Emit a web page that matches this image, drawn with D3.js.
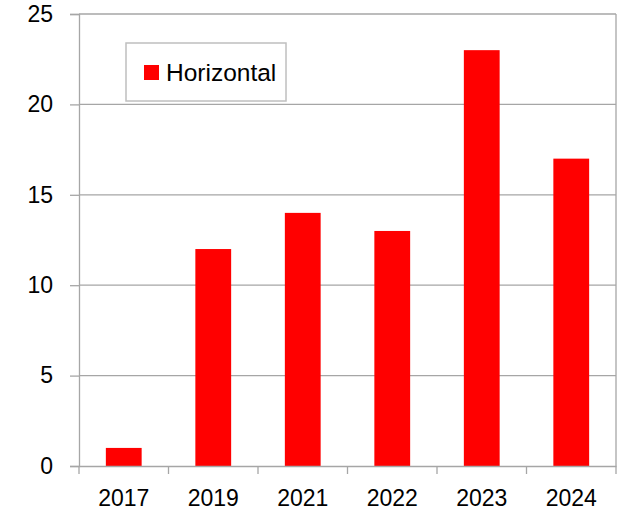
<!DOCTYPE html>
<html><head><meta charset="utf-8">
<script src="https://cdn.jsdelivr.net/npm/d3@7"></script>
<style>html,body{margin:0;padding:0;background:#fff;}</style>
</head><body>
<script>
const categories = ["2017","2019","2021","2022","2023","2024"];
const values = [1,12,14,13,23,17];
const yTicks = [0,5,10,15,20,25];
const seriesName = "Horizontal";

const W = 621, H = 515;
const m = {left:79, right:5, top:14, bottom:49};
const svg = d3.select("body").append("svg").attr("width",W).attr("height",H);
const x = d3.scaleBand().domain(categories).range([m.left, W-m.right]).padding(0);
const y = d3.scaleLinear().domain([0,25]).range([H-m.bottom, m.top]);
const font = "'Liberation Sans', Arial, sans-serif";
const grey = "#a6a6a6";

// gridlines
svg.append("g").selectAll("line").data(yTicks.filter(d=>d>0)).join("line")
  .attr("x1",m.left).attr("x2",W-m.right)
  .attr("y1",d=>y(d)).attr("y2",d=>y(d))
  .attr("stroke",grey).attr("stroke-width",1.3);
// right border
svg.append("line").attr("x1",W-m.right).attr("x2",W-m.right).attr("y1",y(25)).attr("y2",y(0))
  .attr("stroke",grey).attr("stroke-width",1.3);

// bars
const bw = x.bandwidth()*0.4;
svg.append("g").selectAll("rect").data(values).join("rect")
  .attr("x",(d,i)=>x(categories[i])+x.bandwidth()/2-bw/2)
  .attr("width",bw)
  .attr("y",d=>y(d)).attr("height",d=>y(0)-y(d))
  .attr("fill","#ff0000");

// y axis
const ya = svg.append("g").attr("transform",`translate(${m.left},0)`)
  .call(d3.axisLeft(y).tickValues(yTicks).tickSize(9).tickPadding(17));
ya.select(".domain").attr("stroke",grey).attr("stroke-width",1.3);
ya.selectAll(".tick line").attr("stroke",grey).attr("stroke-width",1.3);
ya.selectAll(".tick text").attr("font-family",font).attr("font-size",23).attr("fill","#000");

// x axis
const xa = svg.append("g").attr("transform",`translate(0,${y(0)})`)
  .call(d3.axisBottom(x).tickSize(0).tickPadding(24));
xa.select(".domain").attr("stroke",grey).attr("stroke-width",1.3);
xa.selectAll(".tick text").attr("font-family",font).attr("font-size",23).attr("fill","#000");
// category boundary ticks
const bounds = categories.map(c=>x(c)).concat([x(categories[categories.length-1])+x.bandwidth()]);
xa.append("g").selectAll("line").data(bounds).join("line")
  .attr("x1",d=>d).attr("x2",d=>d).attr("y1",0).attr("y2",8)
  .attr("stroke",grey).attr("stroke-width",1.3);

// legend
const lg = svg.append("g").attr("transform","translate(126,43)");
lg.append("rect").attr("width",160).attr("height",58).attr("fill","#fff")
  .attr("stroke","#bfbfbf").attr("stroke-width",1.5);
lg.append("rect").attr("x",18).attr("y",22).attr("width",15).attr("height",15).attr("fill","#ff0000");
lg.append("text").attr("x",40).attr("y",38).attr("font-family",font).attr("font-size",24.5)
  .attr("fill","#000").text(seriesName);
</script>
</body></html>
